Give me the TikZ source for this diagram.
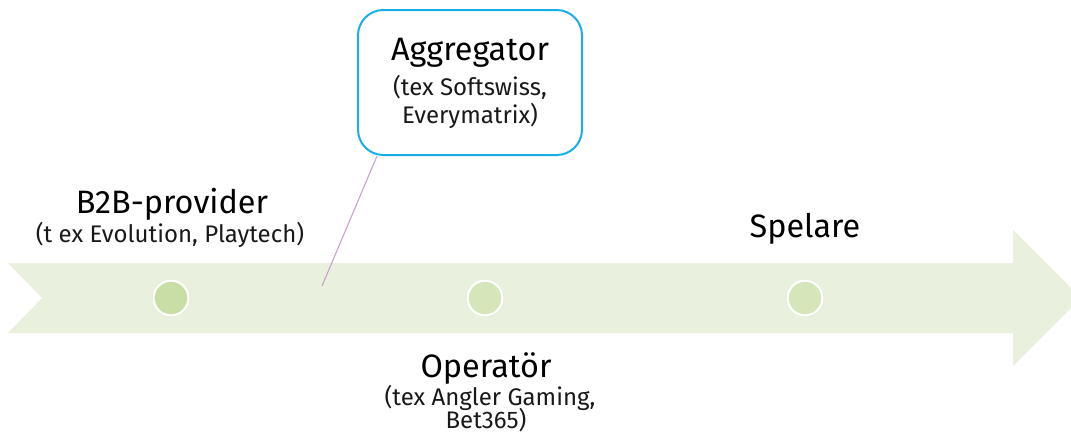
\documentclass[tikz,border=0pt]{standalone}
\usepackage{fontspec}
\setmainfont{Fira Sans}
\usetikzlibrary{calc}
\definecolor{arrowfill}{HTML}{E9F0DD}
\definecolor{dotA}{HTML}{C8DEA6}
\definecolor{dotB}{HTML}{D6E6BB}
\definecolor{boxline}{HTML}{1AAEE8}
\definecolor{linkline}{HTML}{C79FCB}
\newcommand\titlefont{\fontsize{24.3}{28}\selectfont}
\newcommand\subfont{\fontsize{18}{20}\selectfont}
\tikzset{
  dot/.style={circle, minimum size=26pt, inner sep=0, draw=white, line width=1.5pt},
  title/.style={anchor=base, inner sep=0, font=\titlefont, text=black},
  sub/.style={anchor=base, inner sep=0, font=\subfont, text=black!90},
  aggbox/.style={draw=boxline, line width=1.5pt, fill=white, rounded corners=19pt, minimum width=168pt, minimum height=108.75pt, inner sep=0},
  link/.style={draw=linkline, line width=0.8pt}
}
\begin{document}
\begin{tikzpicture}[x=0.75pt,y=-0.75pt]
\useasboundingbox (0,0) rectangle (1071,436);
% big arrow
\fill[arrowfill] (8,263) -- (1013,263) -- (1013,230) -- (1081,298) -- (1013,366) -- (1013,333) -- (8,333) -- (42,298) -- cycle;
% dots
\node[dot, fill=dotA] (c1) at (171,298) {};
\node[dot, fill=dotB] (c2) at (485,298) {};
\node[dot, fill=dotB] (c3) at (805,298) {};
% aggregator box
\node[aggbox] (agg) at (470,82.5) {};
\coordinate (linkend) at (322,286);
\draw[link] ($(agg.south west)+(20,0)$) -- (linkend);
\node[title] (aggt) at (470,60) {Aggregator};
\node[sub] (aggs1) at (470,95) {(tex Softswiss,};
\node[sub] (aggs2) at (470,123) {Everymatrix)};
% B2B
\node[title] (b2bt) at (172,213) {B2B-provider};
\node[sub] (b2bs) at (170,242) {(t ex Evolution, Playtech)};
% Spelare
\node[title] (spt) at (805,237) {Spelare};
% Operator
\node[title] (opt) at (486,377) {Operatör};
\node[sub] (ops1) at (490,405) {(tex Angler Gaming,};
\node[sub] (ops2) at (486,428) {Bet365)};
\end{tikzpicture}
\end{document}
